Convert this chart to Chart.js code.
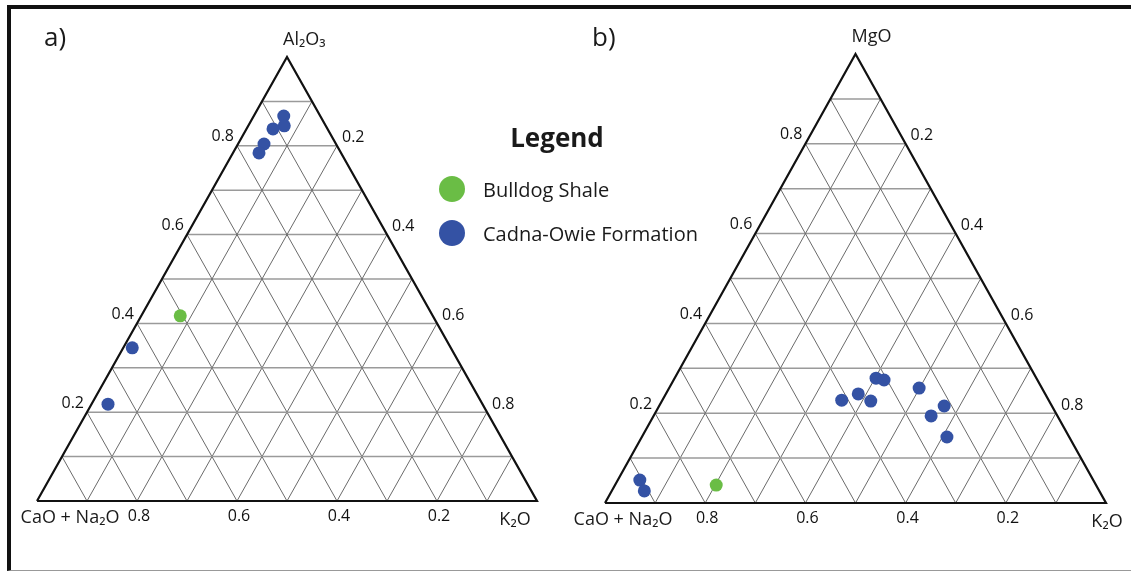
<!DOCTYPE html>
<html>
<head>
<meta charset="utf-8">
<script src="https://cdn.jsdelivr.net/npm/chart.js@4.4.1/dist/chart.umd.min.js"></script>
<style>
  body { margin: 0; background: #fff; font-family: "Open Sans", sans-serif; color: #1a1a1a; }
  #wrap { position: relative; width: 1131px; height: 572px; overflow: hidden; background: #fff; }
  #frame { position: absolute; left: 7px; top: 5px; width: 1130px; height: 561px;
           border-top: 4px solid #111; border-left: 4px solid #111; border-bottom: 1px solid #999; }
  canvas { position: absolute; left: 0; top: 0; }
  .panel { position: absolute; font-size: 26px; line-height: 26px; }
  #legend-title { position: absolute; left: 457px; width: 200px; top: 122px; text-align: center;
                  font-weight: bold; font-size: 26px; line-height: 30px; }
  .leg-item { position: absolute; left: 439px; height: 26px; display: flex; align-items: center; font-size: 20px; }
  .leg-dot { width: 26px; height: 26px; border-radius: 50%; margin-right: 18px; }
</style>
</head>
<body>
<div id="wrap">
  <div id="frame"></div>
  <canvas id="ternaryA" width="1131" height="572"></canvas>
  <canvas id="ternaryB" width="1131" height="572"></canvas>
  <div class="panel" style="left:44px; top:23px;">a)</div>
  <div class="panel" style="left:592px; top:23px;">b)</div>
  <div id="legend-title">Legend</div>
  <div class="leg-item" style="top:176px;"><span class="leg-dot" style="background:#6abd45"></span>Bulldog Shale</div>
  <div class="leg-item" style="top:220px;"><span class="leg-dot" style="background:#3452a4"></span>Cadna-Owie Formation</div>
</div>
<script>
// valores (fracciones); CaO + Na2O = 1 - resto
const gridSteps = [0.1, 0.2, 0.3, 0.4, 0.5, 0.6, 0.7, 0.8, 0.9];
const tickValues = [0.2, 0.4, 0.6, 0.8];
const tickLabels = ['0.2', '0.4', '0.6', '0.8'];

// panel a) Al2O3 - (CaO + Na2O) - K2O
const cadnaAl2O3 = [0.867, 0.845, 0.838, 0.804, 0.784, 0.345, 0.218];
const cadnaK2Oa  = [0.060, 0.072, 0.053, 0.052, 0.052, 0.018, 0.033];
const bulldogAl2O3 = [0.417];
const bulldogK2Oa  = [0.078];

// panel b) MgO - (CaO + Na2O) - K2O
const cadnaMgO  = [0.051, 0.027, 0.229, 0.243, 0.227, 0.278, 0.274, 0.256, 0.216, 0.194, 0.147];
const cadnaK2Ob = [0.044, 0.065, 0.358, 0.384, 0.417, 0.402, 0.420, 0.499, 0.569, 0.554, 0.609];
const bulldogMgO  = [0.040];
const bulldogK2Ob = [0.202];

const colorBulldog = '#6abd45';
const colorCadna = '#3452a4';

// ternario -> cartesiano (arriba, derecha)
function toXY(top, right) {
    return { x: right + top / 2, y: top };
}

function lineSet(points, color, width, order) {
    return {
        type: 'scatter', data: points, showLine: true, borderColor: color, borderWidth: width,
        pointRadius: 0, clip: false, order: order
    };
}

function pointSet(label, tops, rights, color) {
    return {
        label: label, type: 'scatter',
        data: tops.map((t, i) => toXY(t, rights[i])),
        backgroundColor: color, borderColor: color, pointRadius: 6.5, pointHoverRadius: 6.5,
        borderWidth: 0, clip: false, order: 0
    };
}

const ternaryLabels = {
    id: 'ternaryLabels',
    afterDatasetsDraw(chart, args, opts) {
        const ctx = chart.ctx;
        const xs = chart.scales.x, ys = chart.scales.y;
        const px = p => ({ x: xs.getPixelForValue(p.x), y: ys.getPixelForValue(p.y) });
        ctx.save();
        ctx.fillStyle = '#111';
        ctx.font = '16px "Open Sans"';
        ctx.textBaseline = 'middle';
        tickValues.forEach((v, i) => {
            let p = px(toXY(v, 0));
            ctx.textAlign = 'right';
            ctx.fillText(tickLabels[i], p.x - 3, p.y - 9);
            p = px(toXY(1 - v, v));
            ctx.textAlign = 'left';
            ctx.fillText(tickLabels[i], p.x + 5, p.y - 8);
            p = px(toXY(0, 1 - v));
            ctx.textAlign = 'center';
            ctx.fillText(tickLabels[i], p.x + 2, p.y + 15);
        });
        ctx.fillStyle = '#1a1a1a';
        ctx.font = '18px "Open Sans"';
        let p = px(toXY(1, 0));
        ctx.textAlign = 'left';
        ctx.fillText(opts.top, p.x - 4, p.y - 17);
        p = px(toXY(0, 0));
        ctx.textAlign = 'center';
        ctx.fillText(opts.left, p.x + opts.leftDx, p.y + 17);
        p = px(toXY(0, 1));
        ctx.fillText(opts.right, p.x + opts.rightDx, p.y + 19);
        ctx.restore();
    }
};

function buildTernary(canvasId, padding, titles, series) {
    const datasets = series.slice();
    datasets.push(lineSet([toXY(0, 0), toXY(0, 1), toXY(1, 0), toXY(0, 0)], '#111', 2.2, 1));
    gridSteps.forEach(v => {
        datasets.push(lineSet([toXY(v, 0), toXY(v, 1 - v)], '#9a9a9a', 1.5, 2));
        datasets.push(lineSet([toXY(0, v), toXY(1 - v, v)], '#6a6a6a', 1, 2));
        datasets.push(lineSet([toXY(0, 1 - v), toXY(1 - v, 0)], '#6a6a6a', 1, 2));
    });

    new Chart(document.getElementById(canvasId).getContext('2d'), {
        type: 'scatter',
        data: { datasets: datasets },
        options: {
            responsive: false,
            animation: false,
            layout: { padding: padding },
            scales: {
                x: { type: 'linear', min: 0, max: 1, display: false },
                y: { type: 'linear', min: 0, max: 1, display: false }
            },
            plugins: {
                legend: { display: false },
                tooltip: { enabled: false },
                ternaryLabels: titles
            }
        },
        plugins: [ternaryLabels]
    });
}

buildTernary('ternaryA',
    { left: 37, right: 594, top: 57, bottom: 71 },
    { top: 'Al₂O₃', left: 'CaO + Na₂O', right: 'K₂O', leftDx: 33, rightDx: -22 },
    [
        pointSet('Bulldog Shale', bulldogAl2O3, bulldogK2Oa, colorBulldog),
        pointSet('Cadna-Owie Formation', cadnaAl2O3, cadnaK2Oa, colorCadna)
    ]);

buildTernary('ternaryB',
    { left: 605, right: 25, top: 54, bottom: 69 },
    { top: 'MgO', left: 'CaO + Na₂O', right: 'K₂O', leftDx: 18, rightDx: 1 },
    [
        pointSet('Bulldog Shale', bulldogMgO, bulldogK2Ob, colorBulldog),
        pointSet('Cadna-Owie Formation', cadnaMgO, cadnaK2Ob, colorCadna)
    ]);
</script>
</body>
</html>
